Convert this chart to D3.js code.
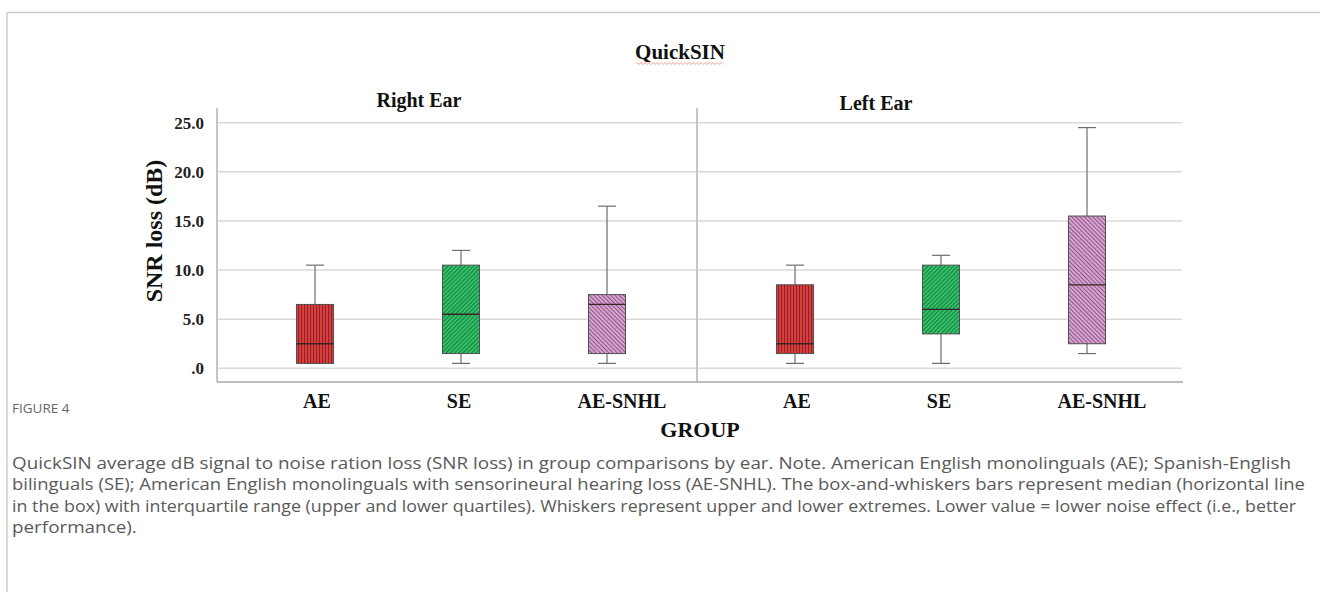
<!DOCTYPE html>
<html><head><meta charset="utf-8">
<script src="https://cdn.jsdelivr.net/npm/d3@7"></script>
<style>body{margin:0;background:#fff} svg{display:block}</style>
</head><body>
<svg id="c" width="1320" height="592"></svg>
<script>
// ---------- data ----------
const groups = ["AE", "SE", "AE-SNHL"];
const ears = ["Right Ear", "Left Ear"];
const rightMin = [0.5, 0.5, 0.5];
const rightQ1  = [0.5, 1.5, 1.5];
const rightMed = [2.5, 5.5, 6.5];
const rightQ3  = [6.5, 10.5, 7.5];
const rightMax = [10.5, 12.0, 16.5];
const leftMin  = [0.5, 0.5, 1.5];
const leftQ1   = [1.5, 3.5, 2.5];
const leftMed  = [2.5, 6.0, 8.5];
const leftQ3   = [8.5, 10.5, 15.5];
const leftMax  = [10.5, 11.5, 24.5];
const yTicks = [0, 5, 10, 15, 20, 25];
const chartTitle = "QuickSIN";
const yTitle = "SNR loss (dB)";
const xTitle = "GROUP";
const figLabel = "FIGURE 4";
const captionLines = [
  "QuickSIN average dB signal to noise ration loss (SNR loss) in group comparisons by ear. Note. American English monolinguals (AE); Spanish-English",
  "bilinguals (SE); American English monolinguals with sensorineural hearing loss (AE-SNHL). The box-and-whiskers bars represent median (horizontal line",
  "in the box) with interquartile range (upper and lower quartiles). Whiskers represent upper and lower extremes. Lower value = lower noise effect (i.e., better",
  "performance)."
];

const panelData = [
  {ear: ears[0], min: rightMin, q1: rightQ1, med: rightMed, q3: rightQ3, max: rightMax},
  {ear: ears[1], min: leftMin,  q1: leftQ1,  med: leftMed,  q3: leftQ3,  max: leftMax}
];

// ---------- layout ----------
const serif = "'Liberation Serif','Times New Roman',serif";
const panels = [{x0: 217, x1: 697, titleX: 419, titleY: 107}, {x0: 697, x1: 1183, titleX: 876, titleY: 110}];
const frameTop = 108, frameBottom = 382;
const boxW = 37, capW = 18;
const labelDx = [2, -2, 15];
const patterns = ["pRed", "pGreen", "pPink"];
const captionEnds = [1291, 1305, 1296];

const svg = d3.select("#c");
const y = d3.scaleLinear().domain([0, 25]).range([368.3, 122.7]);
const xp = d3.scalePoint().domain(groups).range([98, 390]);

// patterns
const defs = svg.append("defs");
function pat(id, base, line, rot) {
  const p = defs.append("pattern").attr("id", id).attr("patternUnits", "userSpaceOnUse")
    .attr("width", 3).attr("height", 3).attr("patternTransform", `rotate(${rot})`);
  p.append("rect").attr("width", 3).attr("height", 3).attr("fill", base);
  p.append("rect").attr("x", 0).attr("width", 1.1).attr("height", 3).attr("fill", line);
}
pat("pRed", "#dc4040", "#8e1f22", 0);
pat("pGreen", "#33c46a", "#1a7d3f", 45);
pat("pPink", "#dba6d4", "#8f5a88", -45);

// outer border
svg.append("line").attr("x1", 7).attr("x2", 1320).attr("y1", 12.5).attr("y2", 12.5).attr("stroke", "#cfcfcf").attr("stroke-width", 1.5);
svg.append("line").attr("x1", 7).attr("x2", 7).attr("y1", 12).attr("y2", 592).attr("stroke", "#cfcfcf").attr("stroke-width", 1.5);

// title
svg.append("text").attr("x", 680).attr("y", 59).attr("text-anchor", "middle")
  .attr("font-family", serif).attr("font-weight", "bold").attr("font-size", 21).attr("fill", "#111").text(chartTitle);
// spell-check squiggle
(function(){
  let d = "M636,63.5"; for (let x = 636; x < 724; x += 2) d += `L${x+1},${(x%4===0)?62.5:64.5}`;
  svg.append("path").attr("d", d).attr("fill", "none").attr("stroke", "#e05050").attr("stroke-width", 0.7).attr("opacity", 0.8);
})();

panels.forEach((P, pi) => {
  const g = svg.append("g");
  const D = panelData[pi];
  g.selectAll("line.grid").data(yTicks).join("line")
    .attr("x1", P.x0 + 1).attr("x2", P.x1 - 1)
    .attr("y1", d => y(d)).attr("y2", d => y(d))
    .attr("stroke", "#d9d9d9").attr("stroke-width", 1.5);
  g.append("line").attr("x1", P.x0).attr("x2", P.x0).attr("y1", frameTop).attr("y2", frameBottom).attr("stroke", "#a8a8a8").attr("stroke-width", 1.3);
  g.append("line").attr("x1", P.x0).attr("x2", P.x1).attr("y1", frameBottom).attr("y2", frameBottom).attr("stroke", "#a8a8a8").attr("stroke-width", 1.6);
  g.append("text").attr("x", P.titleX).attr("y", P.titleY).attr("text-anchor", "middle")
    .attr("font-family", serif).attr("font-weight", "bold").attr("font-size", 20).attr("fill", "#111").text(D.ear);

  const bx = g.append("g").attr("transform", `translate(${P.x0},0)`);
  groups.forEach((grp, i) => {
    const cx = xp(grp);
    const wl = (y1, y2) => bx.append("line").attr("x1", cx).attr("x2", cx).attr("y1", y1).attr("y2", y2).attr("stroke", "#6e6e6e").attr("stroke-width", 1.2);
    wl(y(D.q3[i]), y(D.max[i]));
    wl(y(D.q1[i]), y(D.min[i]));
    [D.max[i], D.min[i]].forEach(v => bx.append("line").attr("x1", cx - capW/2).attr("x2", cx + capW/2)
      .attr("y1", y(v)).attr("y2", y(v)).attr("stroke", "#6e6e6e").attr("stroke-width", 1.2));
    bx.append("rect").attr("x", cx - boxW/2).attr("width", boxW)
      .attr("y", y(D.q3[i])).attr("height", y(D.q1[i]) - y(D.q3[i]))
      .attr("fill", `url(#${patterns[i]})`).attr("stroke", "#505050").attr("stroke-width", 1);
    bx.append("line").attr("x1", cx - boxW/2).attr("x2", cx + boxW/2).attr("y1", y(D.med[i])).attr("y2", y(D.med[i])).attr("stroke", "#3a2525").attr("stroke-width", 1.3);
    bx.append("text").attr("x", cx + labelDx[i]).attr("y", 408).attr("text-anchor", "middle")
      .attr("font-family", serif).attr("font-weight", "bold").attr("font-size", 20).attr("fill", "#111").text(grp);
  });
});

// y tick labels
const fmt = v => { const s = d3.format(".1f")(v); return s.startsWith("0.") ? s.slice(1) : s; };
svg.append("g").selectAll("text").data(yTicks).join("text")
  .attr("x", 204).attr("y", d => y(d)).attr("dy", "0.35em").attr("text-anchor", "end")
  .attr("font-family", serif).attr("font-weight", "bold").attr("font-size", 17).attr("fill", "#222").text(fmt);

// y title
svg.append("text").attr("transform", "translate(162,231) rotate(-90)").attr("text-anchor", "middle")
  .attr("font-family", serif).attr("font-weight", "bold").attr("font-size", 24).attr("fill", "#111").text(yTitle);
// x title
svg.append("text").attr("x", 700).attr("y", 437).attr("text-anchor", "middle")
  .attr("font-family", serif).attr("font-weight", "bold").attr("font-size", 22).attr("fill", "#111").text(xTitle);

// caption
svg.append("text").attr("x", 12).attr("y", 413).attr("font-family", "'Open Sans','Noto Sans',sans-serif")
  .attr("font-size", 13.5).attr("fill", "#666").text(figLabel);
const cap = svg.append("g").attr("font-family", "'Open Sans','Noto Sans',sans-serif").attr("fill", "#5a5a5a");
const lines = cap.selectAll("text").data(captionLines).join("text")
  .attr("x", 12).attr("y", (d, i) => 469 + i * 21.3).attr("font-size", 16.5).text(d => d);
const nat = lines.nodes().map(n => n.getComputedTextLength());
const ratio = (captionEnds[0] - 12) / nat[0];
lines.attr("lengthAdjust", "spacingAndGlyphs")
  .attr("textLength", (d, i) => i < captionEnds.length ? captionEnds[i] - 12 : nat[i] * ratio);
</script>
</body></html>
